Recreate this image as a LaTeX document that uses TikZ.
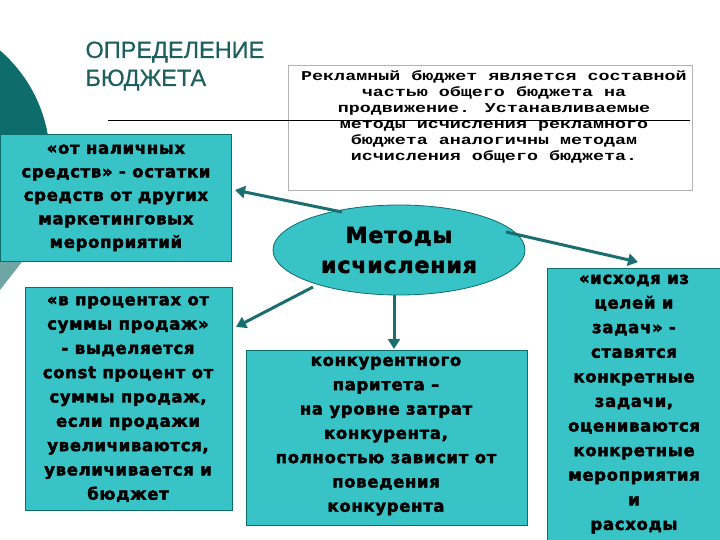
\documentclass[tikz,border=0pt]{standalone}
\usepackage{fontspec}
\setmainfont{Liberation Sans}
\newfontfamily\boxfont[FakeBold=2.5,LetterSpace=4]{DejaVu Sans Bold}
\newfontfamily\titlef[FakeBold=0.6]{Liberation Sans}
\newfontfamily\monof{Liberation Mono Bold}
\usetikzlibrary{shapes.geometric,arrows.meta}
\definecolor{tealfill}{HTML}{38C4C6}
\definecolor{darkteal}{HTML}{0E6C6A}
\definecolor{titlec}{HTML}{1D5E5E}
\definecolor{arrowc}{HTML}{1A6E70}
\definecolor{wedge}{HTML}{6FA6A4}
\tikzset{
 cbox/.style={draw=darkteal, line width=0.8pt, fill=tealfill, inner sep=0pt},
 btext/.style={align=center, font=\boxfont\fontsize{16.5}{24.3}\selectfont},
 arr/.style={draw=arrowc, line width=3pt, -{Triangle[length=10pt,width=12pt]}}
}
\begin{document}
\begin{tikzpicture}[x=1pt,y=-1pt]
\useasboundingbox (0,0) rectangle (720,540);
\fill[darkteal] (-95,160) circle (145);
\fill[wedge] (0,258) -- (25,258) -- (0,290) -- cycle;
\node[anchor=north west, align=left, text=titlec, font=\titlef\fontsize{23.5}{28}\selectfont] (title) at (82,38) {ОПРЕДЕЛЕНИЕ\\БЮДЖЕТА};
\node[draw=gray!60, fill=white, minimum width=404, minimum height=125, anchor=north west] (top) at (288,65) {};
\coordinate (l1) at (108,120); \coordinate (l2) at (690,120);
\draw[line width=0.8pt] (l1) -- (l2);
\node[align=center, xscale=1.36, font=\monof\fontsize{13.5}{16}\selectfont] (toptext) at (494,117) {Рекламный бюджет является составной\\частью общего бюджета на\\продвижение. Устанавливаемые\\методы исчисления рекламного\\бюджета аналогичны методам\\исчисления общего бюджета.};
\node[cbox, minimum width=231, minimum height=127, anchor=north west] (b1) at (0,134) {};
\node[btext, font=\boxfont\fontsize{16.5}{23.5}\selectfont] at (b1.center) {«от наличных\\средств» - остатки\\средств от других\\маркетинговых\\мероприятий};
\node[cbox, minimum width=207, minimum height=223, anchor=north west] (b2) at (25,287) {};
\node[btext] at (128,399) {«в процентах от\\суммы продаж»\\- выделяется\\const процент от\\суммы продаж,\\если продажи\\увеличиваются,\\увеличивается и\\бюджет};
\node[cbox, minimum width=281, minimum height=175, anchor=north west] (b3) at (246,350) {};
\node[btext] at (386,436) {конкурентного\\паритета –\\на уровне затрат\\конкурента,\\полностью зависит от\\поведения\\конкурента};
\node[cbox, minimum width=175, minimum height=275, anchor=north west] (b4) at (547,268) {};
\node[btext, font=\boxfont\fontsize{16.5}{24.6}\selectfont] at (634,404) {«исходя из\\целей и\\задач» -\\ставятся\\конкретные\\задачи,\\оцениваются\\конкретные\\мероприятия\\и\\расходы};
\node[ellipse, draw=darkteal, line width=0.8pt, fill=tealfill, minimum width=252, minimum height=90, align=center, font=\boxfont\fontsize{22}{30}\selectfont] (m) at (399,250) {Методы\\исчисления};
\coordinate (a1s) at (342,212); \coordinate (a1e) at (235,190);
\coordinate (a2s) at (313,287); \coordinate (a2e) at (236,327);
\coordinate (a3s) at (394,295); \coordinate (a3e) at (394,349);
\coordinate (a4s) at (506,232); \coordinate (a4e) at (638,262);
\draw[arr] (a1s) -- (a1e);
\draw[arr] (a2s) -- (a2e);
\draw[arr] (a3s) -- (a3e);
\draw[arr] (a4s) -- (a4e);
\end{tikzpicture}
\end{document}
